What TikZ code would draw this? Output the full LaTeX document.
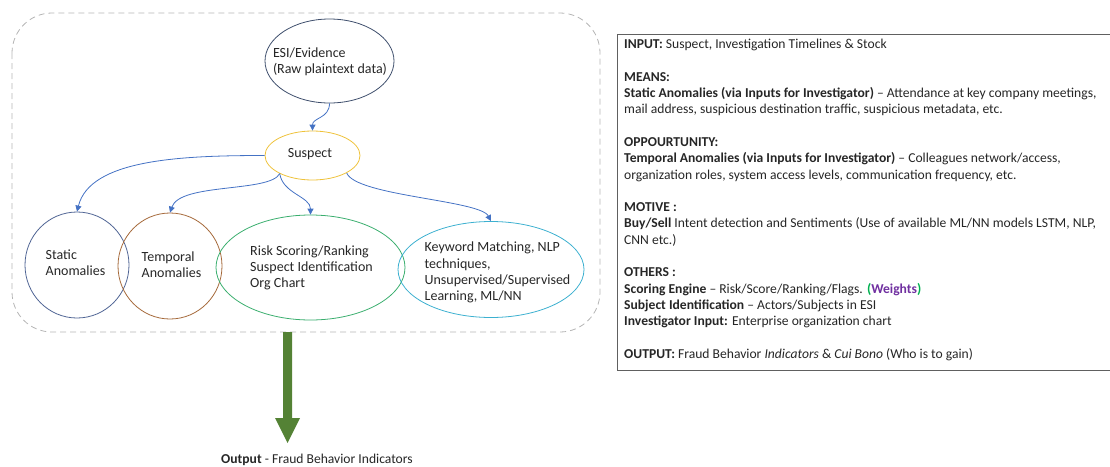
\documentclass[tikz,border=0pt]{standalone}
\usepackage{fontspec}
\setmainfont{Carlito}
\usetikzlibrary{shapes.geometric,arrows.meta}
\definecolor{esic}{HTML}{3E4E6C}
\definecolor{susc}{HTML}{EEC23A}
\definecolor{statc}{HTML}{4F6494}
\definecolor{tempc}{HTML}{A5693A}
\definecolor{riskc}{HTML}{3AAE6E}
\definecolor{kwc}{HTML}{3CB0D0}
\definecolor{arrc}{HTML}{4472C4}
\definecolor{bigarr}{HTML}{548235}
\definecolor{dashc}{HTML}{B5B5B5}
\definecolor{boxc}{HTML}{606060}
\definecolor{txtc}{HTML}{262626}
\definecolor{wgreen}{HTML}{00B050}
\definecolor{wpurple}{HTML}{7030A0}
\tikzset{
  ell/.style={ellipse, draw, line width=0.8pt, inner sep=0pt},
  etext/.style={align=left, text=txtc, font=\fontsize{14}{16.3}\selectfont, inner sep=0pt},
  conn/.style={draw=arrc, line width=0.8pt, -{Triangle[width=6pt,length=6pt]}, arrc},
}
\begin{document}
\begin{tikzpicture}[x=1pt,y=-1pt]
\useasboundingbox (0,0) rectangle (1110,466);
% dashed frame
\draw[dashc, line width=0.8pt, dash pattern=on 6pt off 4pt, rounded corners=40pt] (12,13) rectangle (600,332);
% ellipses
\node[ell, draw=esic, minimum width=129pt, minimum height=84pt] (esi) at (329.5,61) {};
\node[ell, draw=susc, minimum width=95pt, minimum height=49pt] (sus) at (312.5,155.5) {};
\node[ell, draw=statc, minimum width=104pt, minimum height=106pt] (stat) at (77,265) {};
\node[ell, draw=tempc, minimum width=104pt, minimum height=106pt] (temp) at (170,266) {};
\node[ell, draw=riskc, minimum width=189pt, minimum height=105pt] (risk) at (310.5,267.5) {};
\node[ell, draw=kwc, minimum width=186pt, minimum height=96pt] (kw) at (491,269.5) {};
% texts
\node[etext] (esit) at (330,61.5) {ESI/Evidence\\(Raw plaintext data)};
\node[etext] (sust) at (310,154) {Suspect};
\node[etext] (statt) at (75.5,262.5) {Static\\Anomalies};
\node[etext] (tempt) at (171.5,264.5) {Temporal\\Anomalies};
\node[etext] (riskt) at (311.5,268) {Risk Scoring/Ranking\\Suspect Identification\\Org Chart};
\node[etext] (kwt) at (497.5,272.5) {Keyword Matching, NLP\\techniques,\\Unsupervised/Supervised\\Learning, ML/NN};
% connectors
\draw[conn] (esi.south) .. controls +(0,15) and +(0,-13) .. (sus.north);
\draw[conn] (sus.west) .. controls +(-85,0) and +(13,-52) .. (stat.north);
\draw[conn] (sus.209) .. controls +(-10,19) and +(10,-30) .. (temp.north);
\draw[conn] (sus.209) .. controls +(3,20) and +(0,-18) .. (risk.north);
\draw[conn] (sus.333) .. controls +(9,23) and +(-11,-21) .. (kw.north);
% big green arrow
\fill[bigarr] (283,332) -- (292,332) -- (292,418) -- (300,418) -- (287.5,443) -- (275,418) -- (283,418) -- cycle;
\node[anchor=west, text=txtc, font=\fontsize{13.6}{16}\selectfont, inner sep=0pt] (outl) at (221,460) {\textbf{Output} - Fraud Behavior Indicators};
% info box
\draw[boxc, line width=0.8pt] (1112,34) -- (617,34) -- (617,370) -- (1112,370);
\node[anchor=north west, align=left, text=txtc, font=\fontsize{13.6}{16.3}\selectfont, inner sep=0pt] (info) at (624,39) {%
\textbf{INPUT:} Suspect, Investigation Timelines \& Stock\\[16.3pt]
\textbf{MEANS:}\\
\textbf{Static Anomalies (via Inputs for Investigator)} – Attendance at key company meetings,\\
mail address, suspicious destination traffic, suspicious metadata, etc.\\[16.3pt]
\textbf{OPPOURTUNITY:}\\
\textbf{Temporal Anomalies (via Inputs for Investigator)} – Colleagues network/access,\\
organization roles, system access levels, communication frequency, etc.\\[16.3pt]
\textbf{MOTIVE :}\\
\textbf{Buy/Sell} Intent detection and Sentiments (Use of available ML/NN models LSTM, NLP,\\
CNN etc.)\\[16.3pt]
\textbf{OTHERS :}\\
\textbf{Scoring Engine} – Risk/Score/Ranking/Flags. {\bfseries\color{wgreen}(\textcolor{wpurple}{Weights})}\\
\textbf{Subject Identification} – Actors/Subjects in ESI\\
\textbf{Investigator Input:} Enterprise organization chart\\[16.3pt]
\textbf{OUTPUT:} Fraud Behavior \textit{Indicators} \& \textit{Cui Bono} (Who is to gain)};
\end{tikzpicture}
\end{document}
